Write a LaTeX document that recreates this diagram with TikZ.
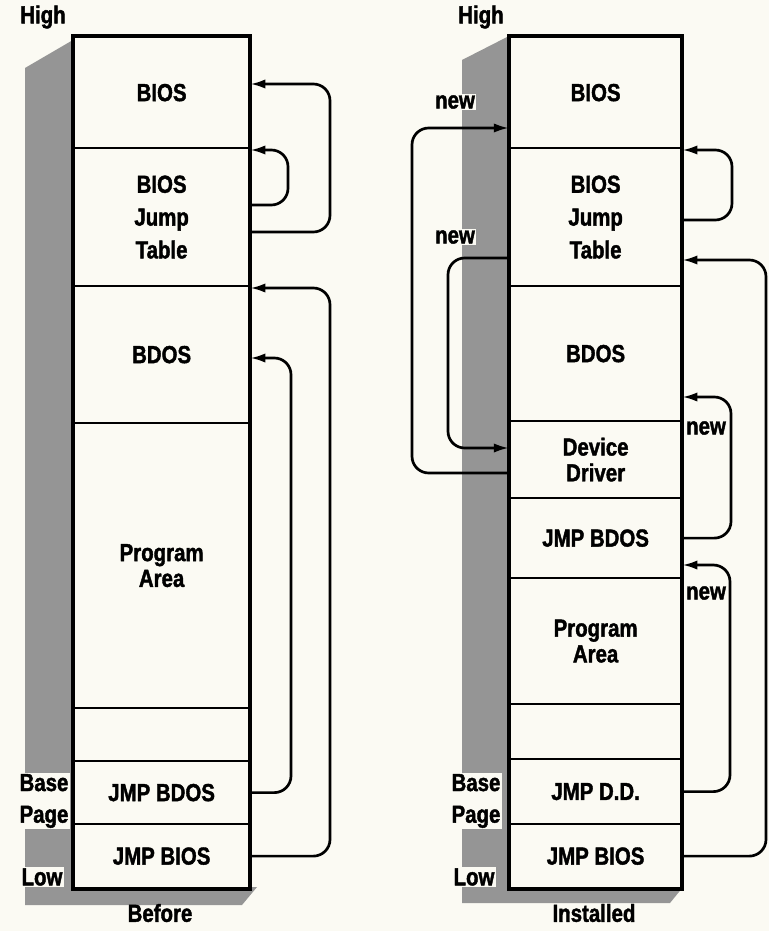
\documentclass[tikz,border=0pt]{standalone}
\usepackage{fontspec}
\setmainfont{Liberation Sans}[FakeStretch=0.83,BoldFeatures={FakeBold=1.6}]
\usetikzlibrary{arrows.meta}
\definecolor{Shade}{HTML}{959595}
\definecolor{Paper}{HTML}{FBFAF3}

\begin{document}
\begin{tikzpicture}[x=0.03cm,y=-0.03cm,
      lbl/.style={font=\bfseries\fontsize{21}{22}\selectfont,inner sep=1pt,align=center},
      seg/.style={lbl,draw,line width=1.9pt,anchor=north west,inner sep=0pt,minimum height=#1*0.03cm},
      before/.style={seg=#1,minimum width=5.25cm},
      installed/.style={seg=#1,minimum width=5.13cm},
      frame/.style={draw,line width=3.4pt},
      link/.style={line width=2.3pt,rounded corners=0.5cm,-{Latex[length=13pt,width=8pt]}},
      tag/.style={lbl,fill=Paper}]
      \fill[Paper] (0,0) rectangle (769,931);
      % shadows
      \fill[Shade] (73,40) -- (25,68) -- (25,905) -- (242,905) -- (257,887) -- (73,887) -- cycle;
      \fill[Shade] (509,36) -- (462,60) -- (462,903) -- (670,903) -- (683,887) -- (509,887) -- cycle;
      % before
      \node[before=111] (b-bios) at (73,36) {BIOS};
      \node[before=138] (b-jump) at (73,147) {BIOS\\[6pt]Jump\\[6pt]Table};
      \node[before=137] (b-bdos) at (73,285) {BDOS};
      \node[before=285] (b-prog) at (73,422) {Program\\Area};
      \node[before=53] (b-free) at (73,707) {};
      \node[before=63] (b-jbdos) at (73,760) {JMP BDOS};
      \node[before=64] (b-jbios) at (73,823) {JMP BIOS};
      \draw[frame] (b-bios.north west) rectangle (b-jbios.south east);
      % installed
      \node[installed=111] (i-bios) at (509,36) {BIOS};
      \node[installed=138] (i-jump) at (509,147) {BIOS\\[6pt]Jump\\[6pt]Table};
      \node[installed=135] (i-bdos) at (509,285) {BDOS};
      \node[installed=77] (i-dd) at (509,420) {Device\\Driver};
      \node[installed=80] (i-jbdos) at (509,497) {JMP BDOS};
      \node[installed=126] (i-prog) at (509,577) {Program\\Area};
      \node[installed=55] (i-free) at (509,703) {};
      \node[installed=65] (i-jdd) at (509,758) {JMP D.D.};
      \node[installed=64] (i-jbios) at (509,823) {JMP BIOS};
      \draw[frame] (i-bios.north west) rectangle (i-jbios.south east);
      % jumps, before
      \draw[link] (b-jump.east |- 0,232) -| (330,84) -- (b-bios.east |- 0,84);
      \draw[link] (b-jump.east |- 0,205) -| (288,150) -- (b-jump.east |- 0,150);
      \draw[link] (b-jbios.east) -| (330,288) -- (b-bdos.east |- 0,288);
      \draw[link] (b-jbdos.east) -| (291,358) -- (b-bdos.east |- 0,358);
      % jumps, installed
      \draw[link] (i-jump.east |- 0,220) -| (732,150) -- (i-jump.east |- 0,150);
      \draw[link] (i-jbios.east) -| (766,260) -- (i-jump.east |- 0,260);
      \draw[link] (i-jbdos.east) -| (731,397) -- (i-bdos.east |- 0,397);
      \draw[link] (i-jdd.east) -| (730,565) -- (i-jbdos.east |- 0,565);
      \draw[link] (i-dd.west |- 0,473) -| (412,128) -- (i-bios.west |- 0,128);
      \draw[link] (i-jump.west |- 0,258) -| (448,448) -- (i-dd.west |- 0,448);
      % labels
      \node[lbl] (b-high) at (43,17) {High};
      \node[tag] (b-base) at (44,801) {Base\\[5pt]Page};
      \node[tag] (b-low) at (42,877) {Low};
      \node[lbl] (b-title) at (160,913) {Before};
      \node[lbl] (i-high) at (481,17) {High};
      \node[tag] (i-base) at (476,801) {Base\\[5pt]Page};
      \node[tag] (i-low) at (474,877) {Low};
      \node[lbl] (i-title) at (594,913) {Installed};
      \node[tag] (new1) at (455,102) {new};
      \node[tag] (new2) at (455,237) {new};
      \node[lbl] (new3) at (706,428) {new};
      \node[lbl] (new4) at (706,593) {new};
    \end{tikzpicture}
\end{document}
